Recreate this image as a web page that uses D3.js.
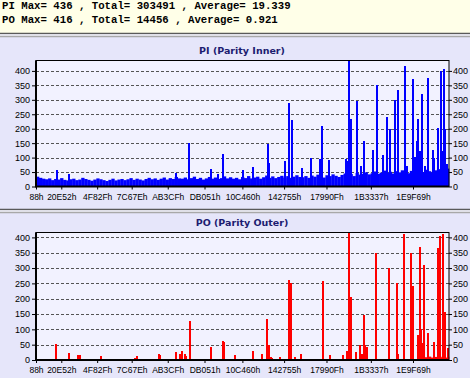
<!DOCTYPE html>
<html>
<head>
<meta charset="utf-8">
<script src="https://d3js.org/d3.v7.min.js"></script>
<style>
  body { margin: 0; background: #e6e6fa; }
  .stat { font-family: "Liberation Mono", monospace; font-weight: bold; font-size: 10.7px; fill: #000; }
  .ptitle { font-family: "DejaVu Sans", sans-serif; font-weight: bold; font-size: 9.5px; fill: #1c1c70; }
  .axis text { font-family: "Liberation Sans", Arial, sans-serif; font-size: 9px; fill: #000; }
  .axis line { stroke: #000; }
  .axis path { display: none; }
  .grid line { stroke: #555; stroke-dasharray: 3,2; }
</style>
</head>
<body>
<svg id="chart" width="470" height="378"></svg>
<script>
// x axis labels (LBA in hex)
const xTickLabels = ["88h", "20E52h", "4F82Fh", "7C67Eh", "AB3CFh", "DB051h",
  "10C460h", "142755h", "17990Fh", "1B3337h", "1E9F69h"];
const lbaStart = 0x88;
const lbaEnd = 2198600;
const yTicks = [0, 50, 100, 150, 200, 250, 300, 350, 400];

const piStats = ["PI", 436, 303491, "19.339"];
const poStats = ["PO", 416, 14456, "0.921"];

// PI background level, evenly spread over the disc
const piBase = [
  34,30,27,25,28,22,26,24,29,23,21,25,27,22,24,30,26,23,20,24,28,25,22,19,
  23,27,21,24,26,22,25,29,23,27,24,21,26,30,25,28,23,27,31,24,29,26,33,28,
  27,31,25,29,34,26,30,24,28,33,27,31,26,29,35,28,32,27,30,25,
  33,29,36,28,31,34,27,32,38,30,35,29,33,37,31,36,30,34,39,33,
  32,36,30,38,34,41,35,31,39,36,42,37,33,40,45,38,43,36,47,41,44,49,42,46,
  52,44,48,55,47,51,45,53,49,56,50,46,54,48,57,52,50,58,53,49,56,60,54,51,62
];
// PI peaks [lba, value]
const piSpikes = [
  [110500,57],[177700,43],[747040,46],[816408,150],[931132,60],[971152,44],
  [996231,113],[1102951,57],[1156311,67],[1232616,146],[1239553,82],[1324929,88],
  [1348407,289],[1364415,229],[1414040,63],[1462064,97],[1510088,94],[1524495,210],
  [1558112,91],[1648824,95],[1655761,88],[1668567,436],[1677105,232],[1711255,296],
  [1728864,70],[1746473,157],[1796631,126],[1817975,352],[1846256,108],[1866000,241],
  [1882007,198],[1911889,300],[1926296,333],[1962047,416],[1974320,70],[2004735,371],
  [2017008,102],[2026079,157],[2034617,235],[2043688,124],[2055961,321],[2070368,70],
  [2084775,375],[2113056,126],[2119953,100],[2139736,203],[2154143,398],[2164815,124],
  [2170151,407],[2178689,198],[2187760,78]
];

// PO: dense low tail at the end of the disc
const poTailStart = 2038352;
const poTail = [4,7,5,9,6,11,8,5,10,7,12,9,6,8,11];
const poSpikes = [
  [39000,4],[106720,52],[177700,22],[222511,17],[234784,15],[281207,4],[348441,14],
  [528264,5],[537335,14],[654727,19],[661664,16],[743305,25],[768384,19],[775321,28],
  [791329,18],[800400,12],[818009,127],[930065,41],[996231,63],[1001567,58],
  [1058129,15],[1156311,30],[1204335,19],[1231015,133],[1239553,50],[1248624,10],
  [1257695,7],[1298249,10],[1348407,262],[1359079,250],[1376688,9],[1410305,21],
  [1527697,258],[1565049,16],[1636551,16],[1657895,30],[1666433,416],[1675504,205],
  [1705919,26],[1725149,50],[1734200,20],[1746473,146],[1751809,50],[1764615,43],
  [1810505,350],[1879873,300],[1919360,250],[1924696,20],[1959913,410],[1997265,350],
  [2007937,240],[2031416,80],[2042087,370],[2049024,100],[2061297,55],[2063432,310],
  [2084775,88],[2116815,58],[2138215,365],[2152144,405],[2168144,410],[2179896,156],
  [2191671,40]
];

const svg = d3.select("#chart");
const W = 470, H = 378;
const left = 36, right = 449;

// header with the totals
svg.append("rect").attr("x", 0).attr("y", 0).attr("width", W).attr("height", 33).attr("fill", "#ffffe8");
[piStats, poStats].forEach((s, i) => {
  svg.append("text").attr("class", "stat")
    .attr("x", 2).attr("y", 9 + i * 13.5)
    .attr("xml:space", "preserve")
    .text(s[0] + " Max= " + s[1] + " , Total= " + s[2] + " , Average= " + s[3]);
});
function separator(y) {
  svg.append("line").attr("x1", 0).attr("x2", W).attr("y1", y).attr("y2", y).attr("stroke", "#5a5a5a").attr("stroke-width", 1.5);
  svg.append("line").attr("x1", 0).attr("x2", W).attr("y1", y + 1.5).attr("y2", y + 1.5).attr("stroke", "#ffffff");
  svg.append("line").attr("x1", 0).attr("x2", W).attr("y1", y + 3).attr("y2", y + 3).attr("stroke", "#a8a8a8").attr("stroke-width", 1.5);
}
separator(33.5);
separator(209.5);

const x = d3.scaleLinear().domain([lbaStart, lbaEnd]).range([left, right]);
const xTicks = xTickLabels.map(s => parseInt(s, 16));

function panel(cfg) {
  const g = svg.append("g");
  const y = d3.scaleLinear().domain([0, cfg.max]).range([cfg.bottom, cfg.top]);

  g.append("text").attr("class", "ptitle")
    .attr("x", 242).attr("y", cfg.titleY).attr("text-anchor", "middle").text(cfg.title);

  g.append("rect").attr("x", left).attr("y", cfg.top)
    .attr("width", right - left).attr("height", cfg.bottom - cfg.top).attr("fill", "#f2f2ff");

  // dashed grid
  g.append("g").attr("class", "grid").selectAll("line")
    .data(yTicks.filter(d => d > 0)).enter().append("line")
    .attr("x1", left).attr("x2", right)
    .attr("y1", d => Math.round(y(d)) + 0.5).attr("y2", d => Math.round(y(d)) + 0.5);

  // background level
  const step = (cfg.baseEnd - cfg.baseStart) / cfg.base.length;
  g.append("g").selectAll("rect").data(cfg.base).enter().append("rect")
    .attr("x", (d, i) => x(cfg.baseStart + i * step))
    .attr("width", x(cfg.baseStart + step) - x(cfg.baseStart) + 0.3)
    .attr("y", d => y(d)).attr("height", d => cfg.bottom - y(d))
    .attr("fill", cfg.color);

  // single peaks
  g.append("g").attr("shape-rendering", "crispEdges").selectAll("rect").data(cfg.spikes).enter().append("rect")
    .attr("x", d => Math.round(x(d[0])) - 1)
    .attr("width", 2)
    .attr("y", d => y(d[1])).attr("height", d => cfg.bottom - y(d[1]))
    .attr("fill", cfg.color);

  // frame
  g.append("rect").attr("x", left).attr("y", cfg.top)
    .attr("width", right - left).attr("height", cfg.bottom - cfg.top)
    .attr("fill", "none").attr("stroke", "#000");
  g.append("line").attr("x1", left).attr("x2", left).attr("y1", cfg.top).attr("y2", cfg.bottom + 1)
    .attr("stroke", "#000").attr("stroke-width", 2);
  g.append("line").attr("x1", left).attr("x2", right).attr("y1", cfg.bottom).attr("y2", cfg.bottom)
    .attr("stroke", "#000").attr("stroke-width", 2);

  g.append("g").attr("class", "axis").attr("transform", "translate(" + left + ",0)")
    .call(d3.axisLeft(y).tickValues(yTicks).tickSize(4).tickPadding(2));
  g.append("g").attr("class", "axis").attr("transform", "translate(" + right + ",0)")
    .call(d3.axisRight(y).tickValues(yTicks).tickSize(3).tickPadding(1));
  const xa = g.append("g").attr("class", "axis").attr("transform", "translate(0," + cfg.bottom + ")")
    .call(d3.axisBottom(x).tickValues(xTicks).tickFormat((d, i) => xTickLabels[i]).tickSize(3).tickPadding(4));
  xa.selectAll("text").style("font-size", "8.5px");
}

panel({ title: "PI (Parity Inner)", titleY: 54, top: 60.5, bottom: 186.5, max: 436,
  base: piBase, baseStart: lbaStart, baseEnd: lbaEnd, spikes: piSpikes, color: "#0000ff" });
panel({ title: "PO (Parity Outer)", titleY: 226, top: 232.5, bottom: 360, max: 416,
  base: poTail, baseStart: poTailStart, baseEnd: lbaEnd, spikes: poSpikes, color: "#ff0000" });
</script>
</body>
</html>
